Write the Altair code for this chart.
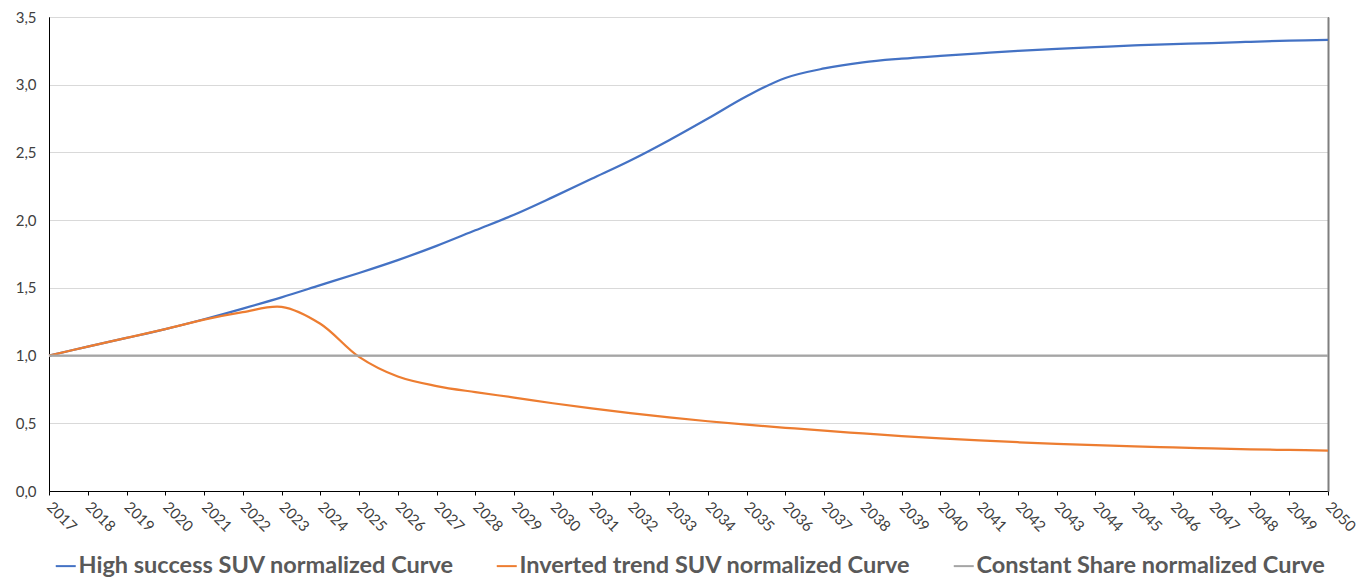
import altair as alt
import pandas as pd

# Years on the horizontal axis
years = list(range(2017, 2051))

# Normalized SUV share curves (2017 = 1.0)
high_success = [
    1.000, 1.066, 1.130, 1.195, 1.268, 1.347, 1.430, 1.520, 1.610, 1.705,
    1.810, 1.925, 2.040, 2.170, 2.305, 2.440, 2.590, 2.750, 2.915, 3.050,
    3.120, 3.165, 3.192, 3.213, 3.232, 3.250, 3.265, 3.278, 3.290, 3.300,
    3.308, 3.317, 3.325, 3.331,
]
inverted_trend = [
    1.000, 1.066, 1.130, 1.195, 1.265, 1.320, 1.360, 1.235, 0.990, 0.845,
    0.775, 0.730, 0.690, 0.648, 0.610, 0.575, 0.543, 0.515, 0.490, 0.467,
    0.445, 0.425, 0.405, 0.388, 0.373, 0.360, 0.348, 0.338, 0.330, 0.322,
    0.315, 0.308, 0.303, 0.298,
]
constant_share = [
    1.0, 1.0, 1.0, 1.0, 1.0, 1.0, 1.0, 1.0, 1.0, 1.0,
    1.0, 1.0, 1.0, 1.0, 1.0, 1.0, 1.0, 1.0, 1.0, 1.0,
    1.0, 1.0, 1.0, 1.0, 1.0, 1.0, 1.0, 1.0, 1.0, 1.0,
    1.0, 1.0, 1.0, 1.0,
]

series_names = [
    "High success SUV normalized Curve",
    "Inverted trend SUV normalized Curve",
    "Constant Share normalized Curve",
]
series_colors = ["#4472C4", "#ED7D31", "#A5A5A5"]
y_ticks = [0.0, 0.5, 1.0, 1.5, 2.0, 2.5, 3.0, 3.5]

rows = []
for name, values in zip(series_names, [high_success, inverted_trend, constant_share]):
    for yr, v in zip(years, values):
        rows.append({"year": yr, "value": v, "series": name})
df = pd.DataFrame(rows)

FONT = "Lato"
TEXT = "#404040"

color = alt.Color(
    "series:N",
    scale=alt.Scale(domain=series_names, range=series_colors),
    sort=series_names,
    legend=alt.Legend(
        title=None,
        orient="none",
        legendX=5,
        legendY=537,
        direction="horizontal",
        symbolType="stroke",
        symbolSize=400,
        symbolStrokeWidth=2,
        labelFont=FONT,
        labelFontSize=23.5,
        labelFontWeight="bold",
        labelColor="#595959",
        labelLimit=0,
        labelOffset=1,
        columnPadding=38,
    ),
)

x = alt.X(
    "year:Q",
    title=None,
    scale=alt.Scale(domain=[2017, 2050], nice=False, zero=False),
    axis=alt.Axis(
        values=years,
        format="d",
        labelAngle=45,
        labelAlign="left",
        labelBaseline="middle",
        labelPadding=9,
        labelFlush=False,
        labelOverlap=False,
        labelFont=FONT,
        labelFontSize=15,
        labelColor=TEXT,
        tickSize=4,
        tickColor="#000000",
        domainColor="#000000",
        domainWidth=1,
        grid=False,
    ),
)

y_left = alt.Y(
    "value:Q",
    title=None,
    scale=alt.Scale(domain=[0, 3.5], nice=False, zero=True),
    axis=alt.Axis(
        values=y_ticks,
        labelExpr="replace(format(datum.value, '.1f'), '.', ',')",
        labelFont=FONT,
        labelFontSize=15,
        labelColor=TEXT,
        labelPadding=13,
        ticks=False,
        domainColor="#000000",
        domainWidth=1,
        grid=True,
        gridColor="#D9D9D9",
        gridWidth=1,
    ),
)

y_right = alt.Y(
    "value:Q",
    title=None,
    scale=alt.Scale(domain=[0, 3.5], nice=False, zero=True),
    axis=alt.Axis(
        orient="right",
        labels=False,
        ticks=False,
        grid=False,
        domainColor="#7F7F7F",
        domainWidth=2,
    ),
)

base = alt.Chart(df)

curves = (
    base.transform_filter(alt.datum.series != series_names[2])
    .mark_line(interpolate="catmull-rom", strokeWidth=2.25)
    .encode(x=x, y=y_left, color=color)
)

flat = (
    base.transform_filter(alt.datum.series == series_names[2])
    .mark_line(strokeWidth=2.25)
    .encode(x=x, y=y_right, color=color)
)

chart = (
    alt.layer(curves, flat)
    .resolve_scale(y="independent")
    .properties(
        width=1279,
        height=474,
        autosize=alt.AutoSizeParams(type="none"),
        padding={"left": 49, "top": 17, "right": 41, "bottom": 90},
        background="#FFFFFF",
    )
    .configure_view(stroke="#000000", strokeWidth=1)
)

chart.save("out.html", embed_options={"renderer": "svg", "actions": False})
